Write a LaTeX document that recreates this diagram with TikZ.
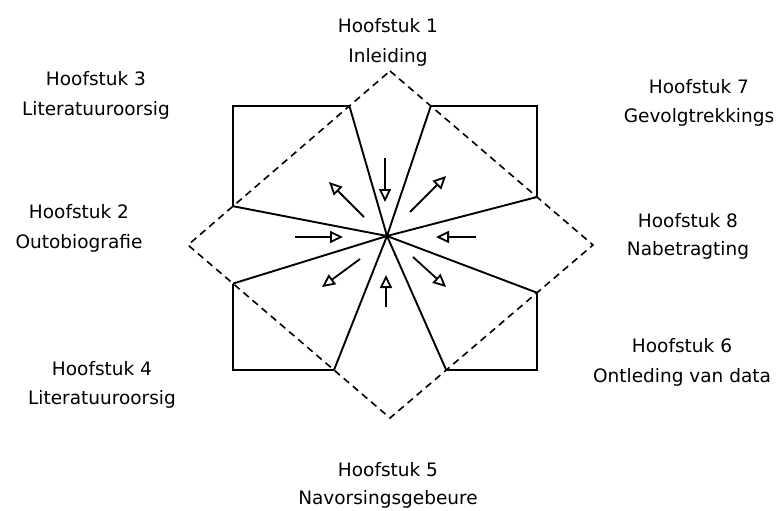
\documentclass[tikz,border=0pt]{standalone}
\usepackage{fontspec}
\setmainfont{DejaVu Sans}
\usetikzlibrary{arrows.meta}
\begin{document}
\begin{tikzpicture}[x=1pt,y=-1pt,
  lbl/.style={font=\fontsize{18.5}{22}\selectfont, anchor=base, inner sep=0pt},
  frame/.style={line width=2.3pt, line join=miter},
  spoke/.style={line width=1.9pt},
  diam/.style={line width=1.6pt, dash pattern=on 7pt off 5pt},
  arr/.style={line width=1.8pt, -{Triangle[open,length=13pt,width=12pt,line width=1.8pt]}}
]
\useasboundingbox (0,0) rectangle (779,511);
% key points
\coordinate (c) at (387,236);
\coordinate (T) at (390,71);
\coordinate (R) at (593,245);
\coordinate (B) at (390,418);
\coordinate (L) at (188,245);
\coordinate (a1) at (349.4,106);
\coordinate (a2) at (430.8,106);
\coordinate (r1) at (537,197);
\coordinate (r2) at (537,292.7);
\coordinate (b2) at (446.2,370);
\coordinate (b1) at (334,370);
\coordinate (l2) at (233,283.6);
\coordinate (l1) at (233,206.2);
% dashed diamond
\draw[diam] (T) -- (R) -- (B) -- (L) -- cycle;
% solid square parts
\draw[frame] (l1) |- (a1);
\draw[frame] (a2) -| (r1);
\draw[frame] (r2) |- (b2);
\draw[frame] (b1) -| (l2);
% spokes
\foreach \p in {a1,a2,r1,r2,b1,b2,l1,l2} \draw[spoke] (\p) -- (c);
\fill (c) circle (2.2pt);
% arrows
\coordinate (n0) at (385,158); \coordinate (n1) at (385,202);
\coordinate (w0) at (295,237); \coordinate (w1) at (343,237);
\coordinate (e0) at (476,237); \coordinate (e1) at (436,237);
\coordinate (s0) at (386,307); \coordinate (s1) at (386,275);
\coordinate (nw0) at (364,217); \coordinate (nw1) at (329,182);
\coordinate (ne0) at (410,212); \coordinate (ne1) at (446,176);
\coordinate (sw0) at (360,259); \coordinate (sw1) at (322,287);
\coordinate (se0) at (413,257); \coordinate (se1) at (446,287);
\draw[arr] (n0) -- (n1);
\draw[arr] (w0) -- (w1);
\draw[arr] (e0) -- (e1);
\draw[arr] (s0) -- (s1);
\draw[arr] (nw0) -- (nw1);
\draw[arr] (ne0) -- (ne1);
\draw[arr] (sw0) -- (sw1);
\draw[arr] (se0) -- (se1);
% labels
\node[lbl] (h1a) at (388,33) {Hoofstuk 1};
\node[lbl] (h1b) at (388,63) {Inleiding};
\node[lbl] (h3a) at (96,85) {Hoofstuk 3};
\node[lbl] (h3b) at (96,115) {Literatuuroorsig};
\node[lbl] (h7a) at (699,93) {Hoofstuk 7};
\node[lbl] (h7b) at (699,122) {Gevolgtrekkings};
\node[lbl] (h2a) at (79,218) {Hoofstuk 2};
\node[lbl] (h2b) at (79,248) {Outobiografie};
\node[lbl] (h8a) at (688,227) {Hoofstuk 8};
\node[lbl] (h8b) at (688,255) {Nabetragting};
\node[lbl] (h4a) at (102,375) {Hoofstuk 4};
\node[lbl] (h4b) at (102,404) {Literatuuroorsig};
\node[lbl] (h6a) at (682,352) {Hoofstuk 6};
\node[lbl] (h6b) at (682,382) {Ontleding van data};
\node[lbl] (h5a) at (388,476) {Hoofstuk 5};
\node[lbl] (h5b) at (388,504) {Navorsingsgebeure};
\end{tikzpicture}
\end{document}
